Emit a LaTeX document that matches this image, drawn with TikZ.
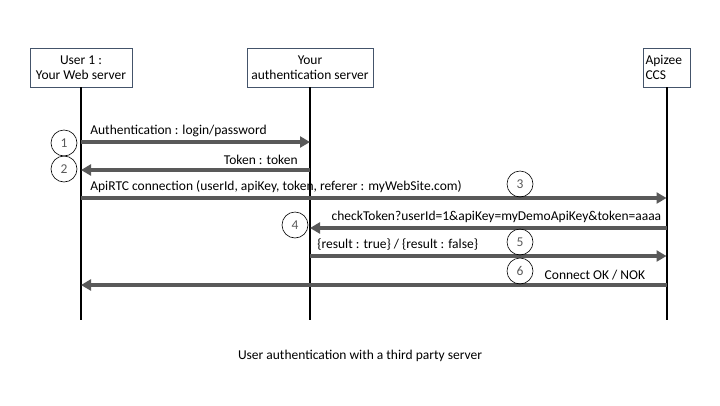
\documentclass[tikz,border=0pt]{standalone}
\usepackage{fontspec}
\setmainfont{Carlito}
\usetikzlibrary{arrows.meta}

\definecolor{boxblue}{HTML}{44546A}
\definecolor{msggray}{HTML}{595959}

\begin{document}
\begin{tikzpicture}[x=1pt, y=-1pt, font=\fontsize{13.5}{15.5}\selectfont,
	actor/.style={rectangle, draw=boxblue, line width=0.9pt, fill=white, align=center, inner sep=0pt, minimum height=39pt},
	life/.style={line width=2pt, black},
	msg/.style={-{Triangle[length=10pt,width=11pt]}, line width=4pt, draw=msggray},
	stepnum/.style={circle, draw=black, line width=0.6pt, text=msggray, inner sep=0pt, minimum size=26pt}]

	\useasboundingbox (0,0) rectangle (720,405);

	\node 	(user)	at	(81,67.5) 	[actor, minimum width=102pt]{User 1 :\\Your Web server};
	\node 	(auth)	at	(310,67.5) 	[actor, minimum width=126pt]{Your\\authentication server};
	\node 	(ccs)	at	(666.5,67.5) 	[actor, minimum width=47pt, align=left, text width=42pt]{Apizee\\CCS};

	\coordinate	(userend)	at	(81,320);
	\coordinate	(authend)	at	(310,320);
	\coordinate	(ccsend)	at	(666.5,320);

	\draw[life]	(user)	--	(userend);
	\draw[life]	(auth)	--	(authend);
	\draw[life]	(ccs)	--	(ccsend);

	% message end points on the lifelines
	\coordinate	(u1)	at	(81,142);
	\coordinate	(a1)	at	(310,142);
	\coordinate	(u2)	at	(81,170);
	\coordinate	(a2)	at	(310,170);
	\coordinate	(u3)	at	(81,198);
	\coordinate	(c3)	at	(666.5,198);
	\coordinate	(a4)	at	(310,228);
	\coordinate	(c4)	at	(666.5,228);
	\coordinate	(a5)	at	(310,256);
	\coordinate	(c5)	at	(666.5,256);
	\coordinate	(u6)	at	(81,285);
	\coordinate	(c6)	at	(666.5,285);

	\draw[msg]	(u1)	to	node[pos=0, anchor=south west, xshift=4pt]{Authentication : login/password}	(a1);
	\draw[msg]	(a2)	to	node[pos=0, anchor=south east, xshift=-7pt]{Token : token}	(u2);
	\draw[msg]	(u3)	to	node[pos=0, anchor=south west, xshift=4pt]{ApiRTC connection (userId, apiKey, token, referer : myWebSite.com)}	(c3);
	\draw[msg]	(c4)	to	node[pos=0, anchor=south east, xshift=0pt]{checkToken?userId=1\&apiKey=myDemoApiKey\&token=aaaa}	(a4);
	\draw[msg]	(a5)	to	node[pos=0, anchor=south west, xshift=2pt]{\{result : true\} / \{result : false\}}	(c5);
	\draw[msg]	(c6)	to	node[pos=0, anchor=south east, xshift=-16pt]{Connect OK / NOK}	(u6);

	\node 	(n1)	at	(64,143)	[stepnum]{1};
	\node 	(n2)	at	(64,169)	[stepnum]{2};
	\node 	(n3)	at	(520,184)	[stepnum]{3};
	\node 	(n4)	at	(295,225)	[stepnum]{4};
	\node 	(n5)	at	(520,242)	[stepnum]{5};
	\node 	(n6)	at	(520,271)	[stepnum]{6};

	\node 	(caption)	at	(360,356)	{User authentication with a third party server};

\end{tikzpicture}
\end{document}
